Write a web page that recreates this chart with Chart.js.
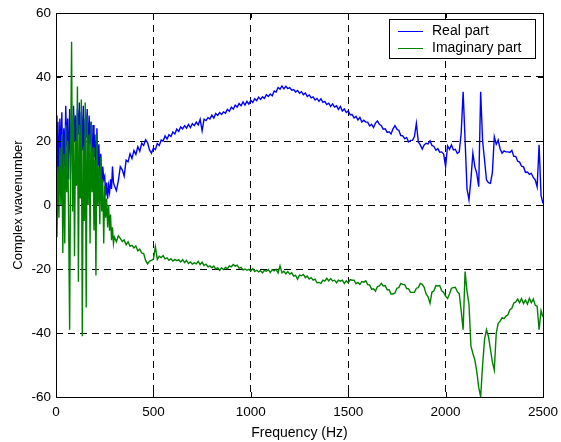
<!DOCTYPE html>
<html>
<head>
<meta charset="utf-8">
<script src="https://cdn.jsdelivr.net/npm/chart.js@4/dist/chart.umd.min.js"></script>
<style>
html,body{margin:0;padding:0;background:#fff;}
#wrap{width:561px;height:442px;}
</style>
</head>
<body>
<div id="wrap"><canvas id="c" width="561" height="442"></canvas></div>
<script>
// Frequency grid (Hz): 5 Hz steps below 300 Hz, 10 Hz steps above
const freqHz = [
  0,5,10,15,20,25,30,35,40,45,
  50,55,60,65,70,75,80,85,90,95,
  100,105,110,115,120,125,130,135,140,145,
  150,155,160,165,170,175,180,185,190,195,
  200,205,210,215,220,225,230,235,240,245,
  250,255,260,265,270,275,280,285,290,295,
  300,310,320,330,340,350,360,370,380,390,
  400,410,420,430,440,450,460,470,480,490,
  500,510,520,530,540,550,560,570,580,590,
  600,610,620,630,640,650,660,670,680,690,
  700,710,720,730,740,750,760,770,780,790,
  800,810,820,830,840,850,860,870,880,890,
  900,910,920,930,940,950,960,970,980,990,
  1000,1010,1020,1030,1040,1050,1060,1070,1080,1090,
  1100,1110,1120,1130,1140,1150,1160,1170,1180,1190,
  1200,1210,1220,1230,1240,1250,1260,1270,1280,1290,
  1300,1310,1320,1330,1340,1350,1360,1370,1380,1390,
  1400,1410,1420,1430,1440,1450,1460,1470,1480,1490,
  1500,1510,1520,1530,1540,1550,1560,1570,1580,1590,
  1600,1610,1620,1630,1640,1650,1660,1670,1680,1690,
  1700,1710,1720,1730,1740,1750,1760,1770,1780,1790,
  1800,1810,1820,1830,1840,1850,1860,1870,1880,1890,
  1900,1910,1920,1930,1940,1950,1960,1970,1980,1990,
  2000,2010,2020,2030,2040,2050,2060,2070,2080,2090,
  2100,2110,2120,2130,2140,2150,2160,2170,2180,2190,
  2200,2210,2220,2230,2240,2250,2260,2270,2280,2290,
  2300,2310,2320,2330,2340,2350,2360,2370,2380,2390,
  2400,2410,2420,2430,2440,2450,2460,2470,2480,2490,
  2500
];

// Real part
const realPart = [
  28, 2, 26, 8, 27, 14, 29, 6, 24, 12,
  31, 18, 27, 8, 30, 16, 25, 10, 31, 20,
  28, 12, 30, 22, 32, 9, 29, 17, 31, 11,
  27, 21, 30, 14, 28, 19, 26, 8, 25, 15,
  22, 7, 24, 12, 19, 9, 16, 5, 12, 8,
  9, 3, 7, 2, 6, 4, 8, 5, 12, 7,
  6, 4.5, 7.5, 12, 11, 9, 14, 13.5, 16, 14.5,
  17, 15.8, 18.2, 16.8, 19.3, 18.6, 20.4, 19.5, 17.2, 16.2,
  17.8, 17.3, 19.2, 18.6, 20.3, 20, 21.6, 20.6, 22, 21.4,
  22.8, 22.2, 23.7, 23, 24.4, 23.8, 24.8, 24, 25.2, 24.2,
  25.4, 24.8, 25.9, 25, 26.8, 23.2, 26.8, 26.4, 27.3, 26.9,
  28.1, 27.2, 28.6, 28, 28.9, 28.3, 29.1, 28.7, 29.9, 29.3,
  30.6, 30, 31.2, 30.6, 31.7, 31, 32.2, 31.2, 32.4, 31.5,
  32.7, 32, 33.2, 32.6, 33.7, 33, 33.8, 33.3, 34.5, 33.9,
  34.7, 34.1, 35.6, 35.3, 36.7, 36.2, 37.2, 36.3, 37.1, 36.4,
  36.7, 35.9, 36.1, 35.3, 35.8, 34.9, 35.4, 34.5, 35, 33.9,
  34.4, 33.5, 33.8, 32.8, 33.3, 32.4, 33.2, 32.1, 32.4, 31.4,
  31.8, 30.8, 31.6, 30.6, 31, 29.9, 30.8, 29.4, 30, 28.9,
  29.4, 28.2, 28.3, 27.2, 27.7, 26.6, 27.4, 25.9, 26.5, 25.9,
  25.9, 24.7, 25.2, 24.2, 25.6, 26.3, 25.2, 24.8, 23.7, 23.8,
  22.7, 22.9, 22.2, 23.8, 24.8, 23.7, 23.3, 21.7, 21.6, 20.7,
  21.1, 19.7, 20.2, 20.2, 21.4, 25.5, 19.7, 18.8, 17.5, 18.8,
  19.3, 19.1, 20.1, 18.6, 18.3, 17.1, 17.6, 16.5, 16.6, 15.9,
  12, 18.5, 17.4, 18.8, 17.2, 17.4, 16.1, 16.6, 22.4, 35.4,
  20.3, 5, 1.6, 8, 16.2, 12, 9.9, 5.7, 35.4, 20,
  14, 7.8, 7, 6.8, 10, 21.3, 19, 20.3, 17.5, 16.2,
  16.9, 16.6, 16.6, 16.4, 17.1, 15.2, 15.2, 13.7, 13.4, 12.1,
  11.9, 10.2, 10.3, 9.6, 9.9, 8.6, 7.9, 5.7, 18.8, 3,
  0.5
];

// Imaginary part
const imagPart = [
  2, -10, 12, -4, 18, 0, 22, -15, 16, -12,
  25, 4, 20, -6, -39, 14, 51, -2, 28, -16,
  20, 6, 37, -24, 25, 2, 33, -41, 18, -5,
  32, -32, 28, 0, 22, -12, 26, 4, 18, -8,
  14, -22, 22, 0, 12, -6, 15, -2, 8, -12,
  6, -4, 2, -7, 0, -8, -3, -11, -7, -12,
  -10, -11.5, -9.6, -10.4, -11.4, -10.9, -12.4, -11.5, -12.9, -12.6,
  -13.4, -12.8, -14.3, -13.8, -15, -15.2, -17.3, -18.4, -17.5, -17.3,
  -16.9, -13, -17, -16, -16.4, -15.8, -16.8, -16.5, -17.3, -16.8,
  -17.5, -17, -17.4, -17.1, -17.8, -17.1, -18, -17.3, -18.3, -17.8,
  -18.5, -18.1, -18.4, -17.6, -18.6, -17.9, -18.9, -18.5, -19.3, -19,
  -19.6, -19.1, -20, -19.6, -20.4, -19.7, -20.2, -19.5, -19.9, -19,
  -19.3, -18.6, -19.1, -18.8, -19.8, -19.5, -20.3, -20, -20.4, -20.1,
  -20.6, -19.9, -20.8, -20.4, -20.9, -20.5, -21.2, -20.4, -20.7, -20.2,
  -21.1, -20.2, -20.6, -20.1, -21.2, -19, -21.2, -20.7, -21.5, -20.8,
  -21.6, -21.2, -22.2, -22, -23.2, -21.9, -22.1, -21.7, -22.7, -22.2,
  -23.1, -22.7, -23.5, -23.2, -24.3, -24.2, -24.5, -23.5, -23.8, -22.9,
  -23.7, -23, -23.7, -23.5, -24.3, -23.5, -23.8, -23.5, -24.5, -23.7,
  -24.3, -23.3, -23.5, -23.5, -24.6, -24.2, -24.8, -23.9, -24.1, -23.7,
  -24.9, -25, -26.3, -26.2, -26.9, -25.5, -25.3, -24.5, -25.3, -25.2,
  -26.5, -26.5, -27.8, -27.8, -27.5, -26, -25.8, -24.5, -24.8, -24.9,
  -26.1, -26.2, -27.3, -27.3, -27.3, -26, -25.8, -24.5, -24.8, -25.7,
  -27.8, -28.7, -30.7, -27.2, -26.8, -25.2, -25.3, -25.2, -26.8, -27.3,
  -28.5, -29.2, -27.8, -26, -25.8, -25.7, -27.1, -27.7, -33, -39,
  -20.8, -27, -31, -44, -46.4, -48.4, -52, -57, -59.9, -50,
  -42, -39, -41.1, -45, -49, -51.6, -40, -37, -36.3, -35.2,
  -35.5, -34.7, -34.3, -32.7, -32.3, -30.7, -30.3, -29.4, -30.5, -29.2,
  -30.8, -29.7, -31, -29.2, -30.5, -29.4, -31.3, -31.7, -39, -33,
  -35
];

const xTicks = [0, 500, 1000, 1500, 2000, 2500];
const yTicks = [-60, -40, -20, 0, 20, 40, 60];
const seriesNames = ['Real part', 'Imaginary part'];
const seriesColors = ['#0000ff', '#008000'];

const FONT = '"Liberation Sans", Arial, Helvetica, sans-serif';

function toPoints(vals){ return freqHz.map((f,i)=>({x:f, y:vals[i]})); }

const boxPlugin = {
  id: 'boxPlugin',
  afterDraw(chart){
    const ctx = chart.ctx;
    const a = chart.chartArea;
    const xs = chart.scales.x, ys = chart.scales.y;
    ctx.save();
    ctx.strokeStyle = '#000';
    ctx.lineWidth = 1;
    ctx.setLineDash([]);
    ctx.strokeRect(Math.round(a.left)+0.5, Math.round(a.top)+0.5, Math.round(a.right-a.left), Math.round(a.bottom-a.top));
    // inward ticks
    ctx.beginPath();
    xTicks.forEach(v=>{
      const px = Math.round(xs.getPixelForValue(v))+0.5;
      ctx.moveTo(px, a.bottom); ctx.lineTo(px, a.bottom-5);
      ctx.moveTo(px, a.top); ctx.lineTo(px, a.top+5);
    });
    yTicks.forEach(v=>{
      const py = Math.round(ys.getPixelForValue(v))+0.5;
      ctx.moveTo(a.left, py); ctx.lineTo(a.left+5, py);
      ctx.moveTo(a.right, py); ctx.lineTo(a.right-5, py);
    });
    ctx.stroke();
    // legend
    const lx = 389.5, ly = 19.5, lw = 146, lh = 39;
    ctx.fillStyle = '#fff';
    ctx.fillRect(lx, ly, lw, lh);
    ctx.strokeStyle = '#000';
    ctx.strokeRect(lx, ly, lw, lh);
    ctx.font = '14px ' + FONT;
    ctx.textBaseline = 'middle';
    ctx.textAlign = 'left';
    seriesNames.forEach((name,i)=>{
      const yy = 31.5 + i*17;
      ctx.strokeStyle = seriesColors[i];
      ctx.lineWidth = 1;
      ctx.beginPath();
      ctx.moveTo(398, yy); ctx.lineTo(423, yy);
      ctx.stroke();
      ctx.fillStyle = '#000';
      ctx.fillText(name, 432, yy);
    });
    ctx.restore();
  }
};

new Chart(document.getElementById('c'), {
  type: 'line',
  data: {
    datasets: [
      { label: seriesNames[0], data: toPoints(realPart), borderColor: seriesColors[0], borderWidth: 1.4, pointRadius: 0, tension: 0, fill: false, order: 1 },
      { label: seriesNames[1], data: toPoints(imagPart), borderColor: seriesColors[1], borderWidth: 1.4, pointRadius: 0, tension: 0, fill: false, order: 0 }
    ]
  },
  options: {
    responsive: false,
    animation: false,
    events: [],
    layout: { padding: { top: 13, right: 18, left: 0, bottom: 0 } },
    plugins: { legend: { display: false }, tooltip: { enabled: false } },
    scales: {
      x: {
        type: 'linear', min: 0, max: 2500,
        afterBuildTicks(s){ s.ticks = xTicks.map(v=>({value:v})); },
        afterFit(s){ s.height = 45; s.paddingLeft = 0; s.paddingRight = 0; },
        grid: { color: ctx => (ctx.tick && (ctx.tick.value === 0 || ctx.tick.value === 2500)) ? 'rgba(0,0,0,0)' : '#000', lineWidth: 1, drawTicks: false },
        border: { display: false, dash: [7, 5] },
        ticks: { color: '#000', font: { family: FONT, size: 13.5 }, padding: 7, maxRotation: 0, callback: v => String(v) },
        title: { display: true, text: 'Frequency (Hz)', color: '#000', font: { family: FONT, size: 14 }, padding: { top: 0, bottom: 0 } }
      },
      y: {
        type: 'linear', min: -60, max: 60,
        afterBuildTicks(s){ s.ticks = yTicks.map(v=>({value:v})); },
        afterFit(s){ s.width = 56; s.paddingTop = 0; s.paddingBottom = 0; },
        grid: { color: ctx => (ctx.tick && (ctx.tick.value === -60 || ctx.tick.value === 60)) ? 'rgba(0,0,0,0)' : '#000', lineWidth: 1, drawTicks: false },
        border: { display: false, dash: [7, 5] },
        ticks: { color: '#000', font: { family: FONT, size: 13.5 }, padding: 5, callback: v => String(v) },
        title: { display: true, text: 'Complex wavenumber', color: '#000', font: { family: FONT, size: 13 }, padding: { top: 11, bottom: 0 } }
      }
    }
  },
  plugins: [boxPlugin]
});
</script>
</body>
</html>
